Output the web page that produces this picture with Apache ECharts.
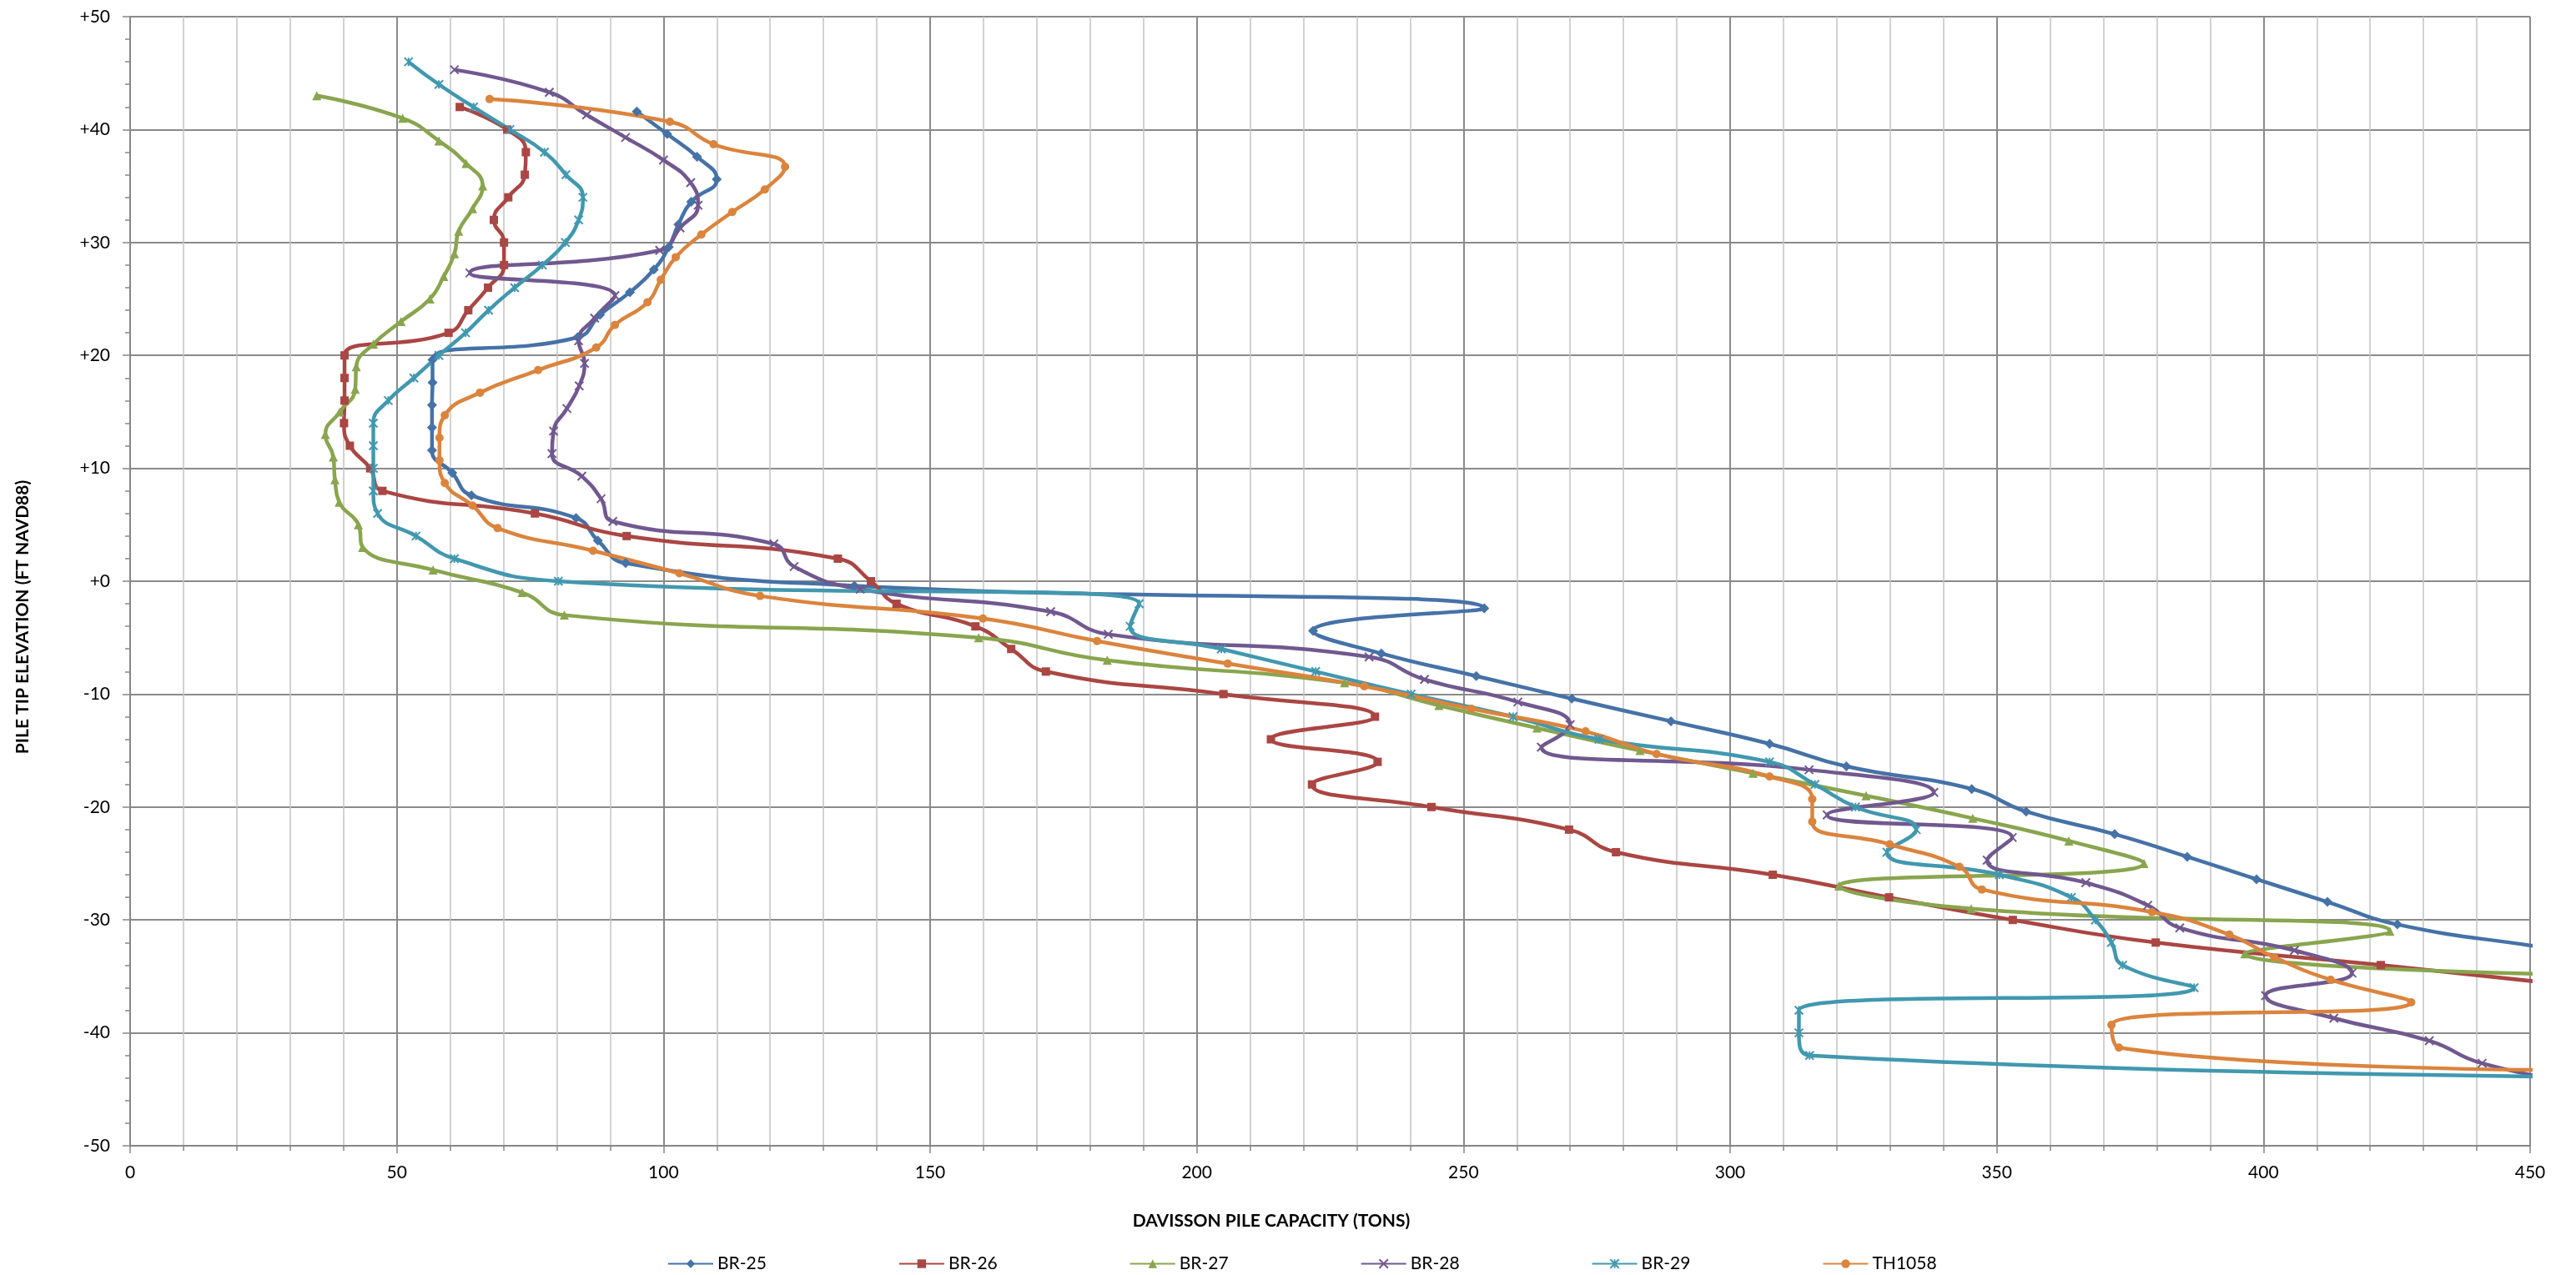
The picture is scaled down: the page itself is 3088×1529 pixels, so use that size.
<!DOCTYPE html>
<html>
<head>
<meta charset="utf-8">
<title>Davisson Pile Capacity</title>
<script src="https://cdn.jsdelivr.net/npm/echarts@6/dist/echarts.min.js"></script>
<style>
  html, body { margin: 0; padding: 0; background: #ffffff; }
  #chart { width: 3088px; height: 1529px; }
</style>
</head>
<body>
<div id="chart"></div>
<script>
'use strict';

// elevations (ft NAVD88) and Davisson capacity (tons)
var elevBR25 = [41.6, 39.6, 37.6, 35.6, 33.6, 31.6, 29.6, 27.6, 25.6, 23.6, 21.6, 19.6, 17.6, 15.6, 13.6, 11.6, 9.6, 7.6, 5.6, 3.6, 1.6, -0.4, -2.4, -4.4, -6.4, -8.4, -10.4, -12.4, -14.4, -16.4, -18.4, -20.4, -22.4, -24.4, -26.4, -28.4, -30.4, -32.4, -34.4];
var capBR25 = [95, 100.7, 106.3, 110, 105.2, 102.8, 101, 98.2, 93.7, 88.1, 83.9, 56.7, 56.7, 56.6, 56.6, 56.6, 60.4, 64, 83.6, 87.7, 92.9, 135.8, 253.9, 221.8, 234.6, 252.4, 270.3, 288.9, 307.4, 321.8, 345.3, 355.5, 372.1, 385.7, 398.7, 412, 425.1, 452, 480];

var elevBR26 = [42, 40, 38, 36, 34, 32, 30, 28, 26, 24, 22, 20, 18, 16, 14, 12, 10, 8, 6, 4, 2, 0, -2, -4, -6, -8, -10, -12, -14, -16, -18, -20, -22, -24, -26, -28, -30, -32, -34, -36];
var capBR26 = [61.8, 70.7, 74.2, 74, 70.9, 68.2, 70.1, 70.1, 67.1, 63.4, 59.7, 40.2, 40.2, 40.2, 40.1, 41.2, 45, 47.3, 75.9, 93.1, 132.7, 138.9, 143.7, 158.5, 165.2, 171.7, 205, 233.4, 213.9, 233.9, 221.6, 244, 269.8, 278.6, 308, 329.8, 353, 379.8, 422, 462];

var elevBR27 = [43, 41, 39, 37, 35, 33, 31, 29, 27, 25, 23, 21, 19, 17, 15, 13, 11, 9, 7, 5, 3, 1, -1, -3, -5, -7, -9, -11, -13, -15, -17, -19, -21, -23, -25, -27, -29, -31, -33, -35];
var capBR27 = [35, 51.1, 57.9, 63, 66.1, 64.2, 61.6, 60.8, 58.8, 56.2, 50.8, 45.6, 42.4, 42.2, 39.3, 36.6, 38.1, 38.4, 39.2, 42.8, 43.6, 56.8, 73.5, 81.4, 159.1, 183.2, 227.7, 245.4, 263.8, 283.1, 304.3, 325.5, 345.5, 363.5, 377.6, 320.4, 345.2, 423.7, 396.5, 475];

var elevBR28 = [45.3, 43.3, 41.3, 39.3, 37.3, 35.3, 33.3, 31.3, 29.3, 27.3, 25.3, 23.3, 21.3, 19.3, 17.3, 15.3, 13.3, 11.3, 9.3, 7.3, 5.3, 3.3, 1.3, -0.7, -2.7, -4.7, -6.7, -8.7, -10.7, -12.7, -14.7, -16.7, -18.7, -20.7, -22.7, -24.7, -26.7, -28.7, -30.7, -32.7, -34.7, -36.7, -38.7, -40.7, -42.7, -44.7];
var capBR28 = [60.8, 78.6, 85.6, 92.9, 100, 105.1, 106.5, 103.1, 99.3, 63.7, 90.9, 87.1, 84.1, 85.2, 84.2, 81.9, 79.4, 79.1, 84.7, 88.3, 90.5, 120.7, 124.5, 136.9, 172.6, 183.4, 232.3, 242.7, 260.2, 270, 264.6, 314.8, 338.2, 318.2, 352.9, 348.2, 366.7, 378.3, 384.3, 405.8, 416.6, 400.4, 413.2, 431.1, 441, 462];

var elevBR29 = [46, 44, 42, 40, 38, 36, 34, 32, 30, 28, 26, 24, 22, 20, 18, 16, 14, 12, 10, 8, 6, 4, 2, 0, -2, -4, -6, -8, -10, -12, -14, -16, -18, -20, -22, -24, -26, -28, -30, -32, -34, -36, -38, -40, -42, -44];
var capBR29 = [52.2, 57.9, 64.4, 71.2, 77.7, 81.7, 84.9, 84.1, 81.6, 77.3, 72.1, 67.2, 62.9, 57.9, 53.2, 48.4, 45.6, 45.6, 45.6, 45.6, 46.4, 53.6, 60.8, 80.3, 189.2, 187.5, 204.6, 222.3, 240.2, 259.3, 275.4, 307.4, 315.9, 323.5, 334.9, 329.4, 350.5, 364, 368.5, 371.5, 373.6, 387, 312.9, 312.9, 314.9, 490];

var elevTH1058 = [42.7, 40.7, 38.7, 36.7, 34.7, 32.7, 30.7, 28.7, 26.7, 24.7, 22.7, 20.7, 18.7, 16.7, 14.7, 12.7, 10.7, 8.7, 6.7, 4.7, 2.7, 0.7, -1.3, -3.3, -5.3, -7.3, -9.3, -11.3, -13.3, -15.3, -17.3, -19.3, -21.3, -23.3, -25.3, -27.3, -29.3, -31.3, -33.3, -35.3, -37.3, -39.3, -41.3, -43.3];
var capTH1058 = [67.4, 101.2, 109.4, 122.8, 119, 112.9, 107.1, 102.3, 99.5, 97, 90.9, 87.4, 76.5, 65.6, 59, 58, 58, 59, 64.2, 68.9, 86.8, 103, 118.1, 159.9, 181.3, 205.8, 231.4, 251.5, 272.9, 286.2, 307.4, 315.4, 315.4, 329.9, 343, 347.2, 379.1, 393.6, 402, 412.6, 427.7, 371.5, 372.9, 455];

var seriesNames = ['BR-25', 'BR-26', 'BR-27', 'BR-28', 'BR-29', 'TH1058'];
var xTickLabels = [0, 50, 100, 150, 200, 250, 300, 350, 400, 450];
var yTickLabels = ['-50', '-40', '-30', '-20', '-10', '+0', '+10', '+20', '+30', '+40', '+50'];

var colors = ['#4572A7', '#AA4643', '#89A54E', '#71588F', '#4198AF', '#DB843D'];
var fontFamily = 'Lato, "Open Sans", sans-serif';

// excel style markers
var markX = 'path://M0,0L10,10M10,0L0,10';
var markStar = 'path://M0,0L10,10M10,0L0,10M5,0L5,10';

function pairs(xs, ys) {
    var out = [];
    for (var i = 0; i < xs.length; i++) {
        out.push([xs[i], ys[i]]);
    }
    return out;
}

function makeSeries(idx, caps, elevs, symbol, size, stroked) {
    return {
        name: seriesNames[idx],
        type: 'line',
        data: pairs(caps, elevs),
        smooth: 0.5,
        symbol: symbol,
        symbolSize: size,
        showSymbol: true,
        clip: true,
        lineStyle: { width: 4.5, color: colors[idx] },
        itemStyle: {
            color: colors[idx],
            borderColor: colors[idx],
            borderWidth: stroked ? 2 : 0
        },
        emphasis: { disabled: true }
    };
}

var myChart = echarts.init(document.getElementById('chart'));
var option = {
    animation: false,
    backgroundColor: '#ffffff',
    color: colors,
    grid: {
        left: 156,
        right: 55,
        top: 20,
        bottom: 155
    },
    legend: {
        data: seriesNames,
        left: 795,
        top: 1500,
        itemWidth: 54,
        itemHeight: 13,
        itemGap: 158,
        textStyle: { fontSize: 21, color: '#000', fontFamily: fontFamily }
    },
    graphic: [{
        type: 'text',
        x: 27,
        y: 740,
        rotation: Math.PI / 2,
        style: {
            text: 'PILE TIP ELEVATION (FT NAVD88)',
            fill: '#000',
            font: 'bold 21px ' + fontFamily,
            align: 'center',
            verticalAlign: 'middle',
            textAlign: 'center',
            textVerticalAlign: 'middle'
        }
    }, {
        type: 'text',
        x: 1524,
        y: 1464,
        style: {
            text: 'DAVISSON PILE CAPACITY (TONS)',
            fill: '#000',
            font: 'bold 21px ' + fontFamily,
            align: 'center',
            verticalAlign: 'middle',
            textAlign: 'center',
            textVerticalAlign: 'middle'
        }
    }],
    xAxis: {
        type: 'value',
        min: xTickLabels[0],
        max: xTickLabels[xTickLabels.length - 1],
        interval: 50,
        axisLine: { show: true, onZero: false, lineStyle: { color: '#868686', width: 2 } },
        axisTick: { show: true, length: 9, lineStyle: { color: '#868686', width: 1.5 } },
        minorTick: { show: true, splitNumber: 5, length: 6, lineStyle: { color: '#868686', width: 1.5 } },
        splitLine: { show: true, lineStyle: { color: '#8a8a8a', width: 2 } },
        minorSplitLine: { show: true, lineStyle: { color: '#c4c4c4', width: 1.5 } },
        axisLabel: { margin: 22, fontSize: 21, color: '#000', fontFamily: fontFamily }
    },
    yAxis: {
        type: 'value',
        min: -50,
        max: 50,
        interval: 10,
        axisLine: { show: true, onZero: false, lineStyle: { color: '#868686', width: 2 } },
        axisTick: { show: true, length: 9, lineStyle: { color: '#868686', width: 1.5 } },
        minorTick: { show: true, splitNumber: 5, length: 6, lineStyle: { color: '#868686', width: 1.5 } },
        splitLine: { show: true, lineStyle: { color: '#8a8a8a', width: 2 } },
        axisLabel: {
            margin: 24,
            fontSize: 21,
            color: '#000',
            fontFamily: fontFamily,
            formatter: function (v) {
                return yTickLabels[Math.round((v + 50) / 10)];
            }
        }
    },
    series: [
        makeSeries(0, capBR25, elevBR25, 'diamond', 12, false),
        makeSeries(1, capBR26, elevBR26, 'rect', 10, false),
        makeSeries(2, capBR27, elevBR27, 'triangle', 11, false),
        makeSeries(3, capBR28, elevBR28, markX, 10, true),
        makeSeries(4, capBR29, elevBR29, markStar, 10, true),
        makeSeries(5, capTH1058, elevTH1058, 'circle', 10, false)
    ]
};
myChart.setOption(option);
</script>
</body>
</html>
